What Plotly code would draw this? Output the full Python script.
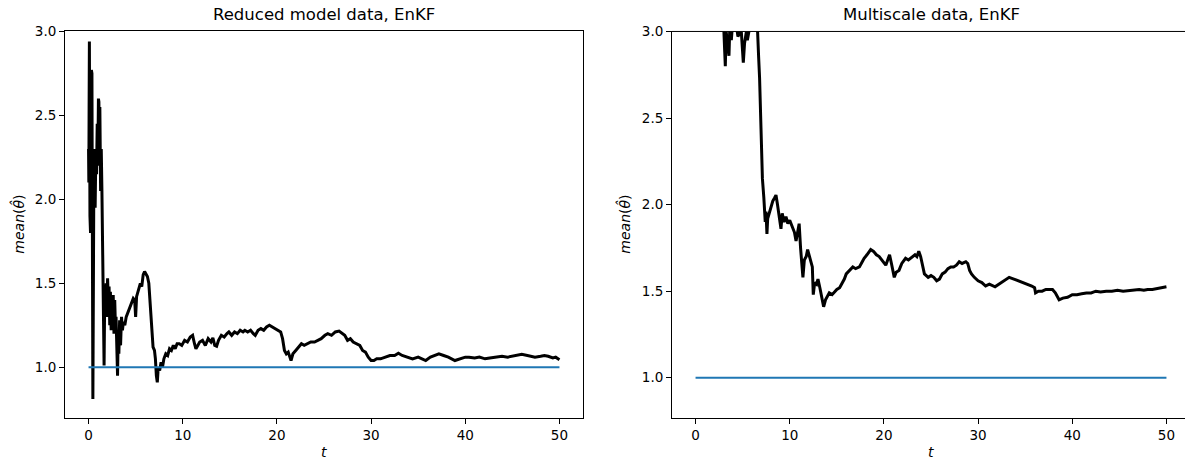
import plotly.graph_objects as go

# ---------------- data ----------------
left_t = [0.00, 0.03, 0.06, 0.09, 0.12, 0.15, 0.18, 0.21, 0.24, 0.27, 0.30, 0.33, 0.36, 0.40, 0.43,
          0.46, 0.50, 0.55, 0.60, 0.65, 0.70, 0.78, 0.85, 0.92, 1.00, 1.05, 1.10, 1.15, 1.20, 1.28,
          1.35, 1.42, 1.50, 1.58, 1.65, 1.72, 1.80, 1.87, 1.95, 2.02, 2.10, 2.18, 2.25, 2.32, 2.40,
          2.48, 2.55, 2.62, 2.70, 2.78, 2.85, 2.92, 3.00, 3.08, 3.15, 3.22, 3.30, 3.40, 3.50, 3.60,
          3.70, 3.85, 4.00, 4.20, 4.40, 4.60, 4.75, 4.90, 5.00, 5.10, 5.30, 5.50, 5.65, 5.80, 5.95,
          6.10, 6.25, 6.40, 6.55, 6.70, 6.85, 7.00, 7.10, 7.20, 7.30, 7.40, 7.55, 7.70, 7.85, 8.00,
          8.20, 8.40, 8.60, 8.80, 9.00, 9.20, 9.40, 9.64, 9.90, 10.20, 10.50, 10.80, 11.05, 11.25, 11.40,
          11.60, 11.80, 12.10, 12.40, 12.70, 13.00, 13.20, 13.40, 13.60, 13.80, 14.10, 14.40, 14.70, 14.90,
          15.20, 15.50, 15.80, 16.10, 16.40, 16.60, 16.90, 17.20, 17.50, 17.70, 18.00, 18.30, 18.60, 18.90,
          19.20, 19.50, 19.80, 20.10, 20.40, 20.60, 20.80, 21.00, 21.20, 21.50, 21.70, 22.00, 22.30, 22.60,
          22.90, 23.20, 23.60, 24.00, 24.30, 24.70, 25.10, 25.40, 25.80, 26.20, 26.60, 26.90, 27.20, 27.50,
          27.80, 28.10, 28.50, 28.80, 29.10, 29.40, 29.70, 30.00, 30.30, 30.60, 31.00, 31.50, 32.00, 32.50,
          32.90, 33.30, 33.80, 34.40, 35.00, 35.40, 35.80, 36.30, 36.80, 37.20, 37.70, 38.20, 38.90, 39.50,
          40.00, 40.40, 41.00, 41.50, 42.10, 42.60, 43.20, 43.90, 44.50, 45.20, 46.00, 46.60, 47.00, 47.40,
          48.00, 48.40, 48.80, 49.30, 49.60, 50.00]
left_mean = [2.30, 2.10, 2.55, 2.94, 2.40, 1.90, 2.20, 1.80, 2.60, 2.00, 2.77, 2.20, 2.75, 1.95, 1.40,
             0.81, 1.30, 1.95, 2.10, 2.30, 1.95, 2.30, 2.15, 2.45, 2.30, 2.60, 2.58, 2.20, 2.55, 2.05,
             2.30, 2.05, 1.60, 1.20, 1.01, 1.45, 1.35, 1.50, 1.30, 1.53, 1.40, 1.48, 1.25, 1.45, 1.22,
             1.38, 1.28, 1.43, 1.20, 1.40, 1.25, 1.30, 1.10, 0.95, 1.20, 1.08, 1.28, 1.13, 1.30, 1.22,
             1.27, 1.25, 1.30, 1.33, 1.36, 1.38, 1.41, 1.40, 1.30, 1.42, 1.47, 1.50, 1.48, 1.55, 1.57,
             1.55, 1.54, 1.50, 1.38, 1.20, 1.12, 1.10, 1.05, 0.95, 0.91, 1.00, 0.98, 1.03, 1.00, 1.05,
             1.08, 1.07, 1.11, 1.10, 1.13, 1.11, 1.14, 1.14, 1.13, 1.16, 1.15, 1.18, 1.19, 1.14, 1.11,
             1.13, 1.15, 1.16, 1.13, 1.17, 1.15, 1.175, 1.13, 1.125, 1.16, 1.19, 1.18, 1.20, 1.21,
             1.19, 1.21, 1.20, 1.22, 1.21, 1.22, 1.21, 1.22, 1.20, 1.19, 1.22, 1.23, 1.22, 1.24,
             1.25, 1.24, 1.23, 1.22, 1.21, 1.17, 1.10, 1.08, 1.09, 1.04, 1.08, 1.10, 1.12, 1.14,
             1.13, 1.14, 1.15, 1.15, 1.16, 1.17, 1.19, 1.20, 1.19, 1.21, 1.215, 1.20, 1.19, 1.16,
             1.17, 1.15, 1.14, 1.13, 1.10, 1.09, 1.06, 1.04, 1.04, 1.05, 1.05, 1.06, 1.07, 1.07,
             1.083, 1.07, 1.06, 1.05, 1.06, 1.05, 1.04, 1.06, 1.07, 1.08, 1.07, 1.06, 1.04, 1.05,
             1.06, 1.06, 1.055, 1.06, 1.05, 1.055, 1.06, 1.065, 1.06, 1.07, 1.077, 1.07, 1.065, 1.06,
             1.065, 1.07, 1.065, 1.055, 1.06, 1.045]

right_t = [0.00, 0.50, 1.00, 1.50, 2.00, 2.50, 2.90, 3.10, 3.16, 3.25, 3.40, 3.55, 3.65, 3.80, 4.00,
           4.30, 4.50, 4.64, 4.80, 4.95, 5.07, 5.20, 5.40, 5.50, 5.70, 6.00, 6.30, 6.55, 6.70, 6.80,
           6.95, 7.10, 7.25, 7.40, 7.48, 7.58, 7.66, 7.80, 8.00, 8.20, 8.40, 8.54, 8.70, 8.90, 9.07,
           9.20, 9.40, 9.60, 9.80, 10.00, 10.30, 10.50, 10.67, 10.85, 11.00, 11.15, 11.30, 11.40, 11.55,
           11.75, 11.90, 12.10, 12.25, 12.40, 12.50, 12.65, 12.85, 13.00, 13.20, 13.40, 13.60, 13.80, 14.00,
           14.20, 14.50, 14.80, 15.00, 15.30, 15.60, 15.80, 16.00, 16.30, 16.70, 17.00, 17.40, 17.70, 17.90,
           18.20, 18.60, 18.90, 19.20, 19.50, 19.80, 20.00, 20.20, 20.40, 20.60, 20.80, 21.00, 21.10, 21.30,
           21.60, 21.90, 22.30, 22.60, 23.00, 23.30, 23.50, 23.70, 23.90, 24.10, 24.30, 24.50, 24.70, 25.00,
           25.30, 25.60, 25.90, 26.20, 26.50, 26.80, 27.10, 27.40, 27.70, 28.00, 28.30, 28.70, 28.90, 29.10,
           29.30, 29.60, 29.80, 30.00, 30.40, 30.80, 31.20, 31.50, 31.80, 32.20, 32.70, 33.30, 33.80, 34.30,
           34.70, 35.20, 35.70, 36.00, 36.10, 36.40, 36.80, 37.20, 37.60, 37.90, 38.20, 38.40, 38.60, 39.00,
           39.50, 40.00, 40.50, 41.00, 41.50, 42.00, 42.50, 43.00, 43.60, 44.20, 44.80, 45.40, 46.00, 46.60,
           47.10, 47.60, 48.00, 48.50, 49.00, 49.50, 50.00]
right_mean = [3.60, 3.90, 4.10, 3.80, 3.70, 3.40, 3.15, 2.88, 2.80, 3.00, 2.92, 2.86, 3.05, 2.95, 3.10,
              3.05, 2.97, 2.99, 3.05, 2.90, 2.82, 2.93, 3.00, 2.95, 3.02, 3.10, 3.15, 3.05, 2.85, 2.73,
              2.44, 2.15, 2.04, 1.90, 1.96, 1.83, 1.92, 1.95, 1.98, 2.02, 2.04, 2.055, 2.00, 1.93, 1.86,
              1.95, 1.90, 1.93, 1.89, 1.91, 1.87, 1.84, 1.79, 1.85, 1.89, 1.75, 1.62, 1.58, 1.68,
              1.70, 1.74, 1.70, 1.66, 1.64, 1.48, 1.55, 1.54, 1.57, 1.52, 1.46, 1.41, 1.45, 1.47,
              1.49, 1.48, 1.50, 1.51, 1.52, 1.55, 1.57, 1.60, 1.62, 1.64, 1.63, 1.64, 1.67, 1.69,
              1.71, 1.74, 1.73, 1.71, 1.70, 1.68, 1.66, 1.65, 1.68, 1.71, 1.66, 1.60, 1.58, 1.61,
              1.62, 1.66, 1.69, 1.68, 1.70, 1.71, 1.70, 1.73, 1.70, 1.64, 1.60, 1.59, 1.58, 1.59,
              1.58, 1.56, 1.57, 1.60, 1.61, 1.63, 1.64, 1.64, 1.65, 1.67, 1.66, 1.67, 1.66, 1.62,
              1.60, 1.58, 1.57, 1.56, 1.55, 1.53, 1.54, 1.53, 1.525, 1.54, 1.56, 1.58, 1.57, 1.56,
              1.55, 1.54, 1.53, 1.52, 1.49, 1.50, 1.50, 1.51, 1.51, 1.51, 1.49, 1.47, 1.45, 1.46,
              1.465, 1.48, 1.48, 1.485, 1.49, 1.49, 1.50, 1.495, 1.50, 1.50, 1.505, 1.50, 1.505, 1.51,
              1.51, 1.505, 1.51, 1.51, 1.515, 1.52, 1.525]

true_t = [0, 50]
true_theta = [1.0, 1.0]

x_ticks = [0, 10, 20, 30, 40, 50]
y_ticks = [1.0, 1.5, 2.0, 2.5, 3.0]
titles = ["Reduced model data, EnKF", "Multiscale data, EnKF"]
y_label = "<i>mean</i>(<i>θ̂</i>)"
x_label = "<i>t</i>"

# ---------------- figure ----------------
W, H = 1185, 460
FONT = "DejaVu Sans"
BLUE = "#1f77b4"

fig = go.Figure()
fig.add_trace(go.Scatter(x=left_t, y=left_mean, mode="lines",
                         line=dict(color="black", width=3), xaxis="x", yaxis="y"))
fig.add_trace(go.Scatter(x=true_t, y=true_theta, mode="lines",
                         line=dict(color=BLUE, width=2), xaxis="x", yaxis="y"))
fig.add_trace(go.Scatter(x=right_t, y=right_mean, mode="lines",
                         line=dict(color="black", width=3), xaxis="x2", yaxis="y2"))
fig.add_trace(go.Scatter(x=true_t, y=true_theta, mode="lines",
                         line=dict(color=BLUE, width=2), xaxis="x2", yaxis="y2"))


def vy(y_px):
    """paper y for a target pixel row (empirical correction of the capture)."""
    return 1 - ((y_px - 7.5) / 0.984) / H


top, bottom = 31, 418
ydom = [vy(bottom), vy(top)]
l1, r1 = 65, 583
l2 = 672

axis_common = dict(showgrid=False, zeroline=False, showline=True, linecolor="black", linewidth=1,
                   ticks="outside", ticklen=5, tickwidth=1, tickcolor="black",
                   tickfont=dict(family=FONT, size=13.5, color="black"))

fig.update_layout(
    width=W, height=H, showlegend=False,
    margin=dict(l=0, r=0, t=0, b=0),
    paper_bgcolor="white", plot_bgcolor="white",
    font=dict(family=FONT, color="black"),
    xaxis=dict(domain=[l1 / W, r1 / W], range=[-2.5, 52.5], tickvals=x_ticks, mirror=True,
               anchor="y", **axis_common),
    yaxis=dict(domain=ydom, range=[0.698, 3.0], tickvals=y_ticks, tickformat=".1f", mirror=True,
               anchor="x", **axis_common),
    xaxis2=dict(domain=[l2 / W, 1.0], range=[-2.5, -2.5 + 55 * (W - l2) / (r1 - l1)],
                tickvals=x_ticks, anchor="y2", **axis_common),
    yaxis2=dict(domain=ydom, range=[0.768, 3.0], tickvals=y_ticks, tickformat=".1f",
                anchor="x2", **axis_common),
)

# top spine of right panel (right spine falls outside the picture)
fig.add_shape(type="line", xref="paper", yref="paper", x0=l2 / W, x1=1.0, y0=ydom[1], y1=ydom[1],
              line=dict(color="black", width=1))

ann = []
for cx, title in zip([(l1 + r1) / 2, (l2 + l2 + (r1 - l1)) / 2], titles):
    ann.append(dict(text=title, x=cx / W, y=vy(14), xref="paper", yref="paper",
                    xanchor="center", yanchor="middle", showarrow=False,
                    font=dict(family=FONT, size=16.5, color="black")))
    ann.append(dict(text=x_label, x=cx / W, y=vy(452), xref="paper", yref="paper",
                    xanchor="center", yanchor="middle", showarrow=False,
                    font=dict(family=FONT, size=14, color="black")))
for lx in [18, 624]:
    ann.append(dict(text=y_label, x=lx / W, y=vy((top + bottom) / 2), xref="paper", yref="paper",
                    xanchor="center", yanchor="middle", showarrow=False, textangle=-90,
                    font=dict(family=FONT, size=14, color="black")))
fig.update_layout(annotations=ann)

fig.write_html(
    "out.html",
    config={"displayModeBar": False},
    post_script="document.body.style.margin='0';document.body.style.overflow='hidden';",
)
